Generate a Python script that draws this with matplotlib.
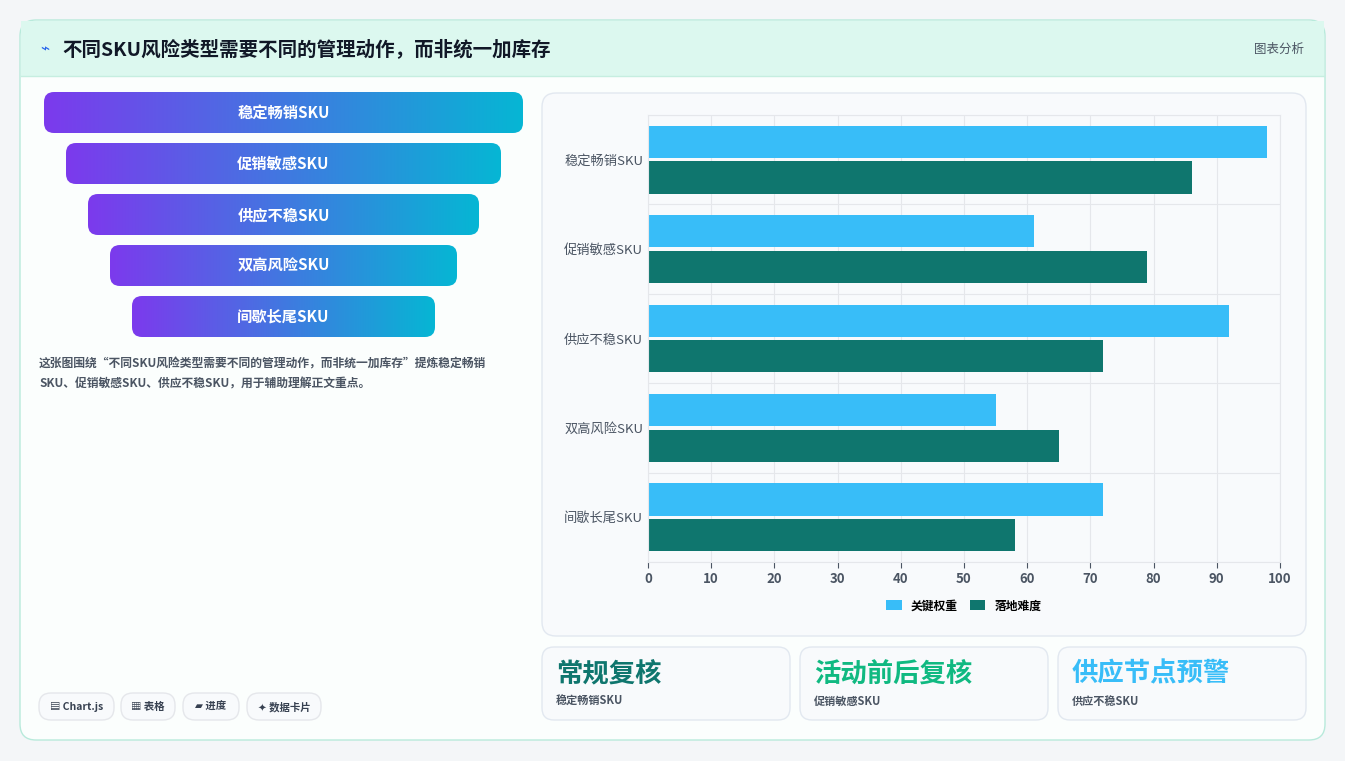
import numpy as np
import matplotlib.pyplot as plt
from matplotlib.patches import FancyBboxPatch, Rectangle
from matplotlib.colors import LinearSegmentedColormap

plt.rcParams['font.family'] = ['Noto Sans CJK SC', 'DejaVu Sans']

W, H = 1345, 761
categories = ["稳定畅销SKU", "促销敏感SKU", "供应不稳SKU", "双高风险SKU", "间歇长尾SKU"]
key_weight = [98, 61, 92, 55, 72]
difficulty = [86, 79, 72, 65, 58]
series_names = ["关键权重", "落地难度"]
kpi_titles = ["常规复核", "活动前后复核", "供应节点预警"]
kpi_subs = ["稳定畅销SKU", "促销敏感SKU", "供应不稳SKU"]
kpi_colors = ["#0f766e", "#10b981", "#38bdf8"]
chips = ["▤ Chart.js", "▦ 表格", "▰ 进度", "✦ 数据卡片"]

fig = plt.figure(figsize=(W / 100, H / 100), dpi=100)
fig.patch.set_facecolor("#f4f6f8")
bg = fig.add_axes([0, 0, 1, 1])
bg.set_xlim(0, W)
bg.set_ylim(H, 0)
bg.axis("off")


def rbox(x, y, w, h, r, fc, ec="none", lw=1, z=1):
    p = FancyBboxPatch((x + r, y + r), w - 2 * r, h - 2 * r,
                       boxstyle=f"round,pad={r}", fc=fc, ec=ec, lw=lw, zorder=z)
    bg.add_patch(p)
    return p


# card
rbox(20, 20, 1305, 720, 16, "#fbfefd", "#b8eadb", 1)
bg.add_patch(Rectangle((21, 21), 1303, 55, fc="#dcf8ef", ec="none", zorder=1.5))
bg.plot([21, 1324], [76, 76], color="#c6eee0", lw=1, zorder=2)
bg.text(40, 49, "⌁", fontsize=11, color="#2563eb", va="center", zorder=3)
bg.text(62, 49, "不同SKU风险类型需要不同的管理动作，而非统一加库存", fontsize=14,
        fontweight="bold", color="#111827", va="center", zorder=3)
bg.text(1304, 49, "图表分析", fontsize=9, color="#4b5563", ha="right", va="center", zorder=3)

# funnel
cmap = LinearSegmentedColormap.from_list("g", ["#7c3aed", "#06b6d4"])
grad = np.linspace(0, 1, 256).reshape(1, -1)
for i, name in enumerate(categories):
    x0 = 44 + 22 * i
    w = 479 - 44 * i
    y0 = 92 + 51 * i
    p = rbox(x0, y0, w, 41, 10, "none", z=2)
    im = bg.imshow(grad, cmap=cmap, extent=[x0, x0 + w, y0 + 41, y0], aspect="auto", zorder=2)
    im.set_clip_path(p)
    bg.text(x0 + w / 2, y0 + 21, name, fontsize=11, fontweight="bold", color="white",
            ha="center", va="center", zorder=3)
bg.text(39, 358, "这张图围绕“不同SKU风险类型需要不同的管理动作，而非统一加库存”提炼稳定畅销\nSKU、促销敏感SKU、供应不稳SKU，用于辅助理解正文重点。",
        fontsize=8.5, color="#4b5563", va="top", linespacing=1.7, fontweight="bold", zorder=3)

# chips
cx = [39, 121, 183, 247]
cw = [75, 54, 56, 74]
for x, w, t in zip(cx, cw, chips):
    rbox(x, 693, w, 27, 12, "#f8fafc", "#e5e7eb", z=2)
    bg.text(x + w / 2, 707, t, fontsize=7.5, fontweight="bold", color="#374151",
            ha="center", va="center", zorder=3)

# chart panel
rbox(542, 93, 764, 543, 14, "#f8fafc", "#e2e8f0", z=1)
ax = fig.add_axes([648 / W, 1 - 562 / H, 632 / W, 447 / H])
ax.set_facecolor("none")
y = np.arange(len(categories))
ax.barh(y - 0.2, key_weight, height=0.36, color="#38bdf8", label=series_names[0])
ax.barh(y + 0.2, difficulty, height=0.36, color="#0f766e", label=series_names[1])
ax.set_ylim(len(categories) - 0.5, -0.5)
ax.set_xlim(0, 100)
ax.set_xticks(range(0, 101, 10))
ax.set_yticks(y)
ax.set_yticklabels(categories, fontsize=9.5, color="#4b5563")
ax.set_yticks(np.arange(-0.5, len(categories), 1), minor=True)
ax.grid(True, axis="x", color="#e5e7eb", lw=0.8)
ax.grid(True, axis="y", which="minor", color="#e5e7eb", lw=0.8)
ax.tick_params(axis="x", labelsize=9.5, colors="#4b5563", length=4)
ax.tick_params(axis="y", which="both", length=0)
for lab in ax.get_xticklabels():
    lab.set_fontweight("bold")
ax.set_axisbelow(True)
for s in ax.spines.values():
    s.set_color("#e5e7eb")
ax.legend(loc="upper center", bbox_to_anchor=(0.5, -0.06), ncol=2, frameon=False,
          fontsize=8.5, handlelength=1.3, handleheight=0.9, columnspacing=1,
          prop={"weight": "bold", "size": 8.5})

# kpi cards
for i, (t, s, c) in enumerate(zip(kpi_titles, kpi_subs, kpi_colors)):
    x0 = 542 + 258 * i
    rbox(x0, 647, 248, 73, 12, "#f8fafc", "#e2e8f0", z=2)
    bg.text(x0 + 14, 674, t, fontsize=19, fontweight="bold", color=c, va="center", zorder=3)
    bg.text(x0 + 14, 701, s, fontsize=8, fontweight="bold", color="#4b5563", va="center", zorder=3)

fig.savefig("out.png", dpi=100, facecolor=fig.get_facecolor())
